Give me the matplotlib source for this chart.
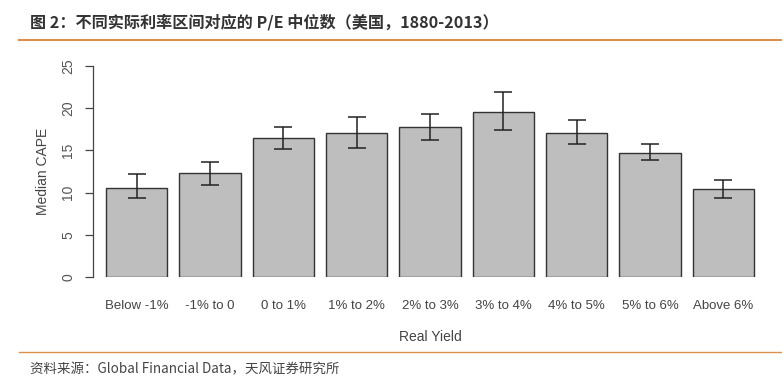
import matplotlib
matplotlib.use("Agg")
import matplotlib.pyplot as plt
from matplotlib.lines import Line2D
import numpy as np

categories = ["Below -1%", "-1% to 0", "0 to 1%", "1% to 2%", "2% to 3%",
              "3% to 4%", "4% to 5%", "5% to 6%", "Above 6%"]
median_cape = [10.6, 12.3, 16.4, 17.1, 17.7, 19.5, 17.1, 14.7, 10.4]
err_high = [12.2, 13.6, 17.8, 18.9, 19.3, 21.9, 18.6, 15.8, 11.5]
err_low = [9.4, 10.9, 15.1, 15.3, 16.2, 17.4, 15.8, 13.9, 9.4]
yticks = [0, 5, 10, 15, 20, 25]

plt.rcParams['font.family'] = ['Liberation Sans', 'Noto Sans CJK SC', 'DejaVu Sans']

W, H = 782, 385
fig = plt.figure(figsize=(W / 100, H / 100), dpi=100)

# axes placement in pixels
left_px, right_px = 80.1, 779.9
top_px, bottom_px = 65.7, 277.3
ax = fig.add_axes([left_px / W, (H - bottom_px) / H,
                   (right_px - left_px) / W, (bottom_px - top_px) / H])

x = 0.7 + 1.2 * np.arange(len(categories))
vals = np.array(median_cape)
yerr = np.vstack([vals - np.array(err_low), np.array(err_high) - vals])
ax.bar(x, vals, width=1.0, color="#bebebe", edgecolor="#333333", linewidth=1.0, zorder=2)
ax.errorbar(x, vals, yerr=yerr, fmt="none", ecolor="#222222", elinewidth=1.1,
            capsize=6.8, capthick=1.1, zorder=3, clip_on=False)

ax.set_xlim(-0.224, 11.224)
ax.set_ylim(0, 25)
for s in ["top", "right", "bottom"]:
    ax.spines[s].set_visible(False)
ax.spines["left"].set_position(("data", -0.018))
ax.spines["left"].set_color("#444444")
ax.spines["left"].set_linewidth(0.9)
ax.set_yticks(yticks)
ax.set_yticklabels([str(v) for v in yticks], rotation=90, va="center",
                   fontsize=10, color="#555555")
ax.tick_params(axis="y", length=5.5, width=0.9, color="#444444", pad=7)
ax.set_xticks(x)
ax.set_xticklabels(categories, fontsize=9.5, color="#444444")
ax.tick_params(axis="x", length=0, pad=16)
ax.set_ylabel("Median CAPE", fontsize=10, color="#444444", labelpad=8)
ax.set_xlabel("Real Yield", fontsize=10, color="#444444", labelpad=13)
ax.patch.set_alpha(0)

# title and decorations
fig.text(30 / W, 1 - 22 / H, "图 2：不同实际利率区间对应的 P/E 中位数（美国，1880-2013）",
         fontsize=11.6, fontweight="bold", color="#333333", va="center", ha="left",
         family=['Noto Sans CJK SC', 'DejaVu Sans'])
fig.add_artist(Line2D([19 / W, 1.0], [1 - 39.5 / H, 1 - 39.5 / H], transform=fig.transFigure,
                      color="#d9904a", linewidth=1.5))
fig.add_artist(Line2D([19 / W, 1.0], [1 - 352 / H, 1 - 352 / H], transform=fig.transFigure,
                      color="#d9904a", linewidth=1.0))
fig.text(30 / W, 1 - 369 / H, "资料来源：Global Financial Data，天风证券研究所",
         fontsize=9.7, color="#444444", va="center", ha="left",
         family=['Noto Sans CJK SC', 'DejaVu Sans'])

fig.savefig("out.png", dpi=100)
